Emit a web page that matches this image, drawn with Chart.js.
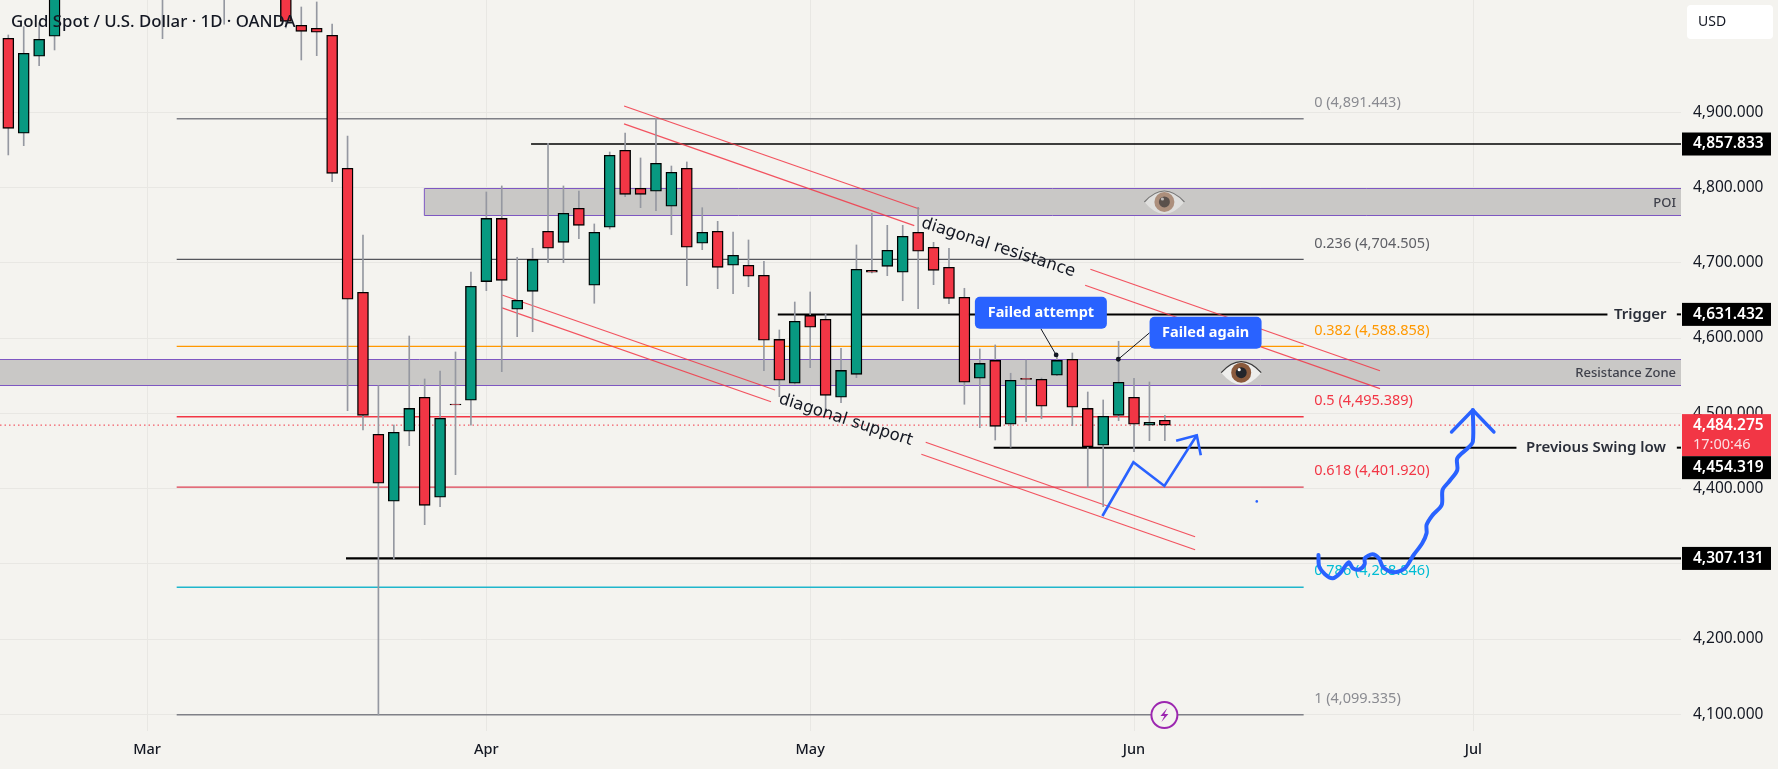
<!DOCTYPE html>
<html>
<head>
<meta charset="utf-8">
<title>Gold Spot / U.S. Dollar</title>
<script src="https://cdn.jsdelivr.net/npm/chart.js@4"></script>
<style>
    html, body { margin: 0; padding: 0; background: #f4f3ef; }
    #wrap { width: 1778px; height: 769px; }
</style>
</head>
<body>
<div id="wrap"><canvas id="chart"></canvas></div>
<script>
// bar 0 is the leftmost candle, 1 unit = 1 trading day
const opens = [4998.3,4872.1,4974.4,5001,5100,5160,5110,5170,5230,5170,5130,5110,5150,5190,5110,5070,5110,5170,5090,5015.6,
    5011.6,5002.3,4825.6,4660.8,4472.1,4383.1,4476.1,4521.3,4388.4,4511.4,4517.3,4674.9,4759.1,4638.2,4662.1,4741.9,4727.2,4772.4,4670.1,4747.2,
    4849.5,4799,4795,4775.1,4825.6,4725.9,4741.9,4696.7,4696.7,4683.4,4598.3,4539.9,4630.2,4624.9,4521.3,4551.8,4690,4695.3,4687.4,4740.5,
    4720.6,4694,4654.2,4546.5,4570.4,4485.4,4545.2,4545.2,4550.5,4571.8,4506.6,4457.5,4497.3,4521.3,4484.1,4490.7];
const highs = [5002.7,5013.8,5018.7,5115,5180,5200,5190,5250,5280,5230,5200,5180,5220,5210,5170,5130,5190,5180,5110,5039.9,
    5046.6,5017.3,4868.5,4736.9,4536.7,4484.5,4602.7,4545.6,4556.2,4581.5,4687.8,4794.1,4802.1,4707.3,4719.3,4858.8,4802.1,4795.4,4751.6,4847.2,
    4872.5,4839.3,4892,4828.6,4834,4773.2,4755.1,4740.9,4730.3,4702,4610.7,4647.9,4661.2,4632,4586.4,4723.7,4765.8,4749.8,4749.8,4773.8,
    4727.2,4719.3,4666.1,4585.5,4590.8,4553.2,4570.8,4546.9,4577.5,4580.1,4528.3,4517.7,4595.7,4546.5,4541.6,4497.3];
const lows = [4843.3,4855.6,4961.9,4982.8,5070,5090,5080,5150,5140,5090,4997.8,5060,5100,5080,5017,5060,5070,5070,5012,4969.5,
    4975.2,4807.8,4503.5,4477.8,4099.1,4306.4,4457,4352,4375.9,4418.4,4484.1,4662.9,4555.3,4601.8,4608.4,4700.1,4700.1,4732,4646.2,4744.9,
    4787.8,4773.2,4769.2,4737.3,4669.6,4717.4,4665.6,4658.9,4668.2,4556.6,4522.1,4539,4560.6,4500.4,4514.1,4547.3,4686.5,4682.9,4649.6,4639,
    4670.9,4645.6,4512,4480.9,4464.5,4454.8,4488.8,4492.8,4550,4483.5,4401.7,4375.9,4490.2,4449,4463.6,4463.6];
const closes = [4878.7,4978.4,4997,5089,5160,5110,5170,5230,5170,5130,5110,5150,5190,5110,5070,5110,5170,5090,5020.9,5007.6,
    5006.3,4818.9,4651.5,4497.3,4407,4474.8,4506.6,4377.7,4493.4,4511,4668.8,4759.1,4676.7,4650.2,4704.6,4719.3,4765.8,4749.8,4740.5,4842.9,
    4791,4791,4832.2,4820.3,4720.6,4740.5,4694,4710,4682.1,4597,4543.9,4622.3,4614.3,4523.9,4557.1,4691.4,4687.4,4716.6,4735.2,4715.3,
    4690,4652.8,4541.2,4566.4,4482.7,4543.9,4545,4509.3,4570.4,4508,4455.6,4496,4541.2,4485.4,4488,4484.275];

const monthBars = [9, 31, 52, 73, 95];
const monthNames = ["Mar", "Apr", "May", "Jun", "Jul"];
const priceTicks = [4100, 4200, 4300, 4400, 4500, 4600, 4700, 4800, 4900];

const fibLevels = [0, 0.236, 0.382, 0.5, 0.618, 0.786, 1];
const fibPrices = [4891.443, 4704.505, 4588.858, 4495.389, 4401.92, 4268.846, 4099.335];
const lastPrice = 4484.275;

// drawings, as [bar, price]
const resistanceTopA = [[39.93,4908.4],[59.08,4771.5]];
const resistanceBotA = [[39.93,4884.5],[58.75,4749.3]];
const resistanceTopB = [[70.17,4691.4],[88.95,4556.6]];
const resistanceBotB = [[69.83,4670.1],[88.95,4532.7]];
const supportTopA = [[32.02,4657.2],[49.72,4531]];
const supportBotA = [[32.02,4640],[49.46,4515.4]];
const supportTopB = [[59.49,4461.5],[76.96,4336]];
const supportBotB = [[59.21,4445.5],[76.96,4318.7]];
const shortArrow = [[70.95,4363.5],[72.96,4434.9],[74.97,4403.4],[77.07,4470.8]];
const shortArrowHead = [[75.73,4463.6],[77.07,4470.8],[77.33,4444.2]];
const longPath = [[84.96,4311.7],[85.01,4296.1],[85.38,4286.1],[85.88,4280.7],[86.36,4287.4],[86.92,4302],[87.2,4294],[87.62,4292.7],
    [87.96,4299.7],[87.96,4307.3],[88.46,4312.6],[88.88,4307.3],[89.16,4295.4],[89.86,4288.7],[90.56,4294],[91.13,4311.7],[91.69,4327.2],
    [91.97,4340.5],[91.97,4351.6],[92.33,4363.9],[92.95,4378.1],[93.01,4398.1],[93.46,4410],[93.96,4424.6],[93.96,4440.2],[94.63,4453.5],
    [94.97,4462.3],[94.97,4504.4]];
const longHead = [[93.59,4475.1],[94.97,4504.4],[96.34,4475.1]];

const xMin = -0.538, xMax = 108.47, yMin = 4077.8, yMax = 5049.2;
const green = "#089981", red = "#f23645", blue = "#2962ff", ink = "#131722";
const font = '"Noto Sans", sans-serif';

function seg(points, color, width, order, extra) {
    return Object.assign({
        type: "line",
        data: points.map(p => ({ x: p[0], y: p[1] })),
        borderColor: color,
        borderWidth: width,
        pointRadius: 0,
        tension: 0,
        order: order
    }, extra || {});
}

function hline(price, from, to, color, width, extra) {
    return seg([[from, price], [to, price]], color, width, 5, extra);
}

const fibColors = ["#7f8087", "#55565c", "#ff9800", "#f23645", "#dc3f52", "#1fb6cc", "#7f8087"];
const fibTextColors = ["#8a8b91", "#5f6066", "#ff9800", "#f23645", "#f23645", "#00bcd4", "#8a8b91"];
const fibFrom = 10.92, fibTo = 84;

let lineSets = [];
fibPrices.forEach((p, i) => lineSets.push(hline(p, fibFrom, fibTo, fibColors[i], 1.4)));
lineSets.push(hline(lastPrice, xMin, xMax, red, 1, { borderDash: [1.5, 3] }));
lineSets.push(hline(4857.833, 33.9, xMax, "#000", 1.4));
lineSets.push(hline(4631.432, 49.9, 103.7, "#000", 2));
lineSets.push(hline(4631.432, 108.2, xMax, "#000", 2));
lineSets.push(hline(4454.319, 63.9, 97.8, "#000", 2));
lineSets.push(hline(4454.319, 108.2, xMax, "#000", 2));
lineSets.push(hline(4307.131, 21.9, xMax, "#000", 2.4));
[resistanceTopA, resistanceBotA, resistanceTopB, resistanceBotB, supportTopA, supportBotA, supportTopB, supportBotB].forEach(l => {
    lineSets.push(seg(l, "rgba(242,54,69,.85)", 1.2, 4));
});
lineSets.push(seg(shortArrow, blue, 2.6, 0));
lineSets.push(seg(shortArrowHead, blue, 2.6, 0));
lineSets.push(seg(longPath, blue, 4, 0, { tension: 0.3, borderCapStyle: "round", borderJoinStyle: "round" }));
lineSets.push(seg(longHead, blue, 3.4, 0, { borderCapStyle: "round", borderJoinStyle: "round" }));

const zones = [
    { from: 26.98, to: xMax, top: 4799, bottom: 4763.1, label: "POI" },
    { from: xMin - 1, to: xMax, top: 4571.8, bottom: 4537.2, label: "Resistance Zone" }
];
const slanted = [
    { text: "diagonal resistance", bar: 64.2, price: 4720, deg: 18 },
    { text: "diagonal support", bar: 54.3, price: 4491, deg: 17.7 }
];
const callouts = [
    { text: "Failed attempt", bar: 66.96, price: 4633.6, w: 132, tipBar: 67.95, tipPrice: 4577.5, startX: 0, startY: 16 },
    { text: "Failed again", bar: 77.64, price: 4607, w: 112, tipBar: 71.98, tipPrice: 4571.8, startX: -56, startY: 0 }
];
const axisLabels = [
    { text: "4,857.833", price: 4857.833 },
    { text: "4,631.432", price: 4631.432 },
    { text: "4,454.319", price: 4454.319, shift: 20 },
    { text: "4,307.131", price: 4307.131 }
];
const eyes = [
    { bar: 74.97, price: 4780.8, alpha: 0.6 },
    { bar: 79.95, price: 4554, alpha: 1 }
];

function drawEye(ctx, cx, cy, alpha) {
    ctx.save();
    ctx.globalAlpha = alpha;
    ctx.beginPath();
    ctx.moveTo(cx - 20, cy);
    ctx.quadraticCurveTo(cx, cy - 22, cx + 20, cy);
    ctx.quadraticCurveTo(cx, cy + 24, cx - 20, cy);
    ctx.fillStyle = "#eeeeec";
    ctx.fill();
    ctx.beginPath();
    ctx.moveTo(cx - 20, cy);
    ctx.quadraticCurveTo(cx, cy - 22, cx + 20, cy);
    ctx.strokeStyle = "#3b3b3b";
    ctx.lineWidth = 1.2;
    ctx.stroke();
    ctx.beginPath();
    ctx.arc(cx, cy, 10, 0, Math.PI * 2);
    ctx.fillStyle = "#8a5a3c";
    ctx.fill();
    ctx.beginPath();
    ctx.arc(cx, cy, 5.5, 0, Math.PI * 2);
    ctx.fillStyle = "#23262b";
    ctx.fill();
    ctx.beginPath();
    ctx.arc(cx - 2, cy - 3, 1.6, 0, Math.PI * 2);
    ctx.fillStyle = "#fff";
    ctx.fill();
    ctx.restore();
}

function roundBox(ctx, x, y, w, h, r, fill) {
    ctx.beginPath();
    ctx.roundRect(x, y, w, h, r);
    ctx.fillStyle = fill;
    ctx.fill();
}

function write(ctx, text, x, y, f, color, align) {
    ctx.font = f;
    ctx.fillStyle = color;
    ctx.textAlign = align || "left";
    ctx.textBaseline = "middle";
    ctx.fillText(text, x, y);
}

const drawings = {
    id: "drawings",
    beforeDatasetsDraw(chart) {
        const { ctx, scales: { x, y } } = chart;
        ctx.save();
        zones.forEach(z => {
            const l = x.getPixelForValue(z.from);
            const r = x.getPixelForValue(z.to);
            const t = Math.round(y.getPixelForValue(z.top)) + 0.5;
            const b = Math.round(y.getPixelForValue(z.bottom)) + 0.5;
            ctx.fillStyle = "#c9c8c6";
            ctx.fillRect(l, t, r - l, b - t);
            ctx.beginPath();
            ctx.moveTo(r, t);
            ctx.lineTo(l, t);
            ctx.lineTo(l, b);
            ctx.lineTo(r, b);
            ctx.strokeStyle = "#7e57c2";
            ctx.lineWidth = 1;
            ctx.stroke();
            write(ctx, z.label, r - 5, (t + b) / 2 + 1, "500 13px " + font, "#3f414b", "right");
        });
        fibPrices.forEach((p, i) => {
            write(ctx, fibLevels[i] + " (" + p.toLocaleString("en-US", { minimumFractionDigits: 3 }) + ")",
                x.getPixelForValue(fibTo + 0.68), y.getPixelForValue(p) - 16, "14.5px " + font, fibTextColors[i]);
        });
        ctx.restore();
    },
    afterDatasetsDraw(chart) {
        const { ctx, scales: { x, y } } = chart;
        ctx.save();
        eyes.forEach(e => drawEye(ctx, x.getPixelForValue(e.bar), y.getPixelForValue(e.price), e.alpha));

        slanted.forEach(s => {
            ctx.save();
            ctx.translate(x.getPixelForValue(s.bar), y.getPixelForValue(s.price));
            ctx.rotate(s.deg * Math.PI / 180);
            write(ctx, s.text, 0, 0, "16.5px 'DejaVu Sans', sans-serif", "#131722", "center");
            ctx.restore();
        });

        callouts.forEach(c => {
            const cx = x.getPixelForValue(c.bar), cy = y.getPixelForValue(c.price);
            const tx = x.getPixelForValue(c.tipBar), ty = y.getPixelForValue(c.tipPrice);
            ctx.beginPath();
            ctx.moveTo(cx + c.startX, cy + c.startY);
            ctx.lineTo(tx, ty);
            ctx.strokeStyle = "#131722";
            ctx.lineWidth = 1;
            ctx.stroke();
            ctx.beginPath();
            ctx.arc(tx, ty, 2.4, 0, Math.PI * 2);
            ctx.fillStyle = "#131722";
            ctx.fill();
            roundBox(ctx, cx - c.w / 2, cy - 16, c.w, 32, 5, blue);
            write(ctx, c.text, cx, cy, "700 14.5px " + font, "#fff", "center");
        });

        // little markers
        const bx = x.getPixelForValue(74.97), by = y.getPixelForValue(4100 - 1);
        ctx.beginPath();
        ctx.arc(bx, by, 13, 0, Math.PI * 2);
        ctx.fillStyle = "#f4f3ef";
        ctx.fill();
        ctx.strokeStyle = "#9c27b0";
        ctx.lineWidth = 2;
        ctx.stroke();
        ctx.beginPath();
        ctx.moveTo(bx + 3, by - 7);
        ctx.lineTo(bx - 4, by + 1);
        ctx.lineTo(bx, by + 1);
        ctx.lineTo(bx - 3, by + 7);
        ctx.lineTo(bx + 4, by - 1);
        ctx.lineTo(bx, by - 1);
        ctx.closePath();
        ctx.fillStyle = "#9c27b0";
        ctx.fill();
        ctx.beginPath();
        ctx.arc(x.getPixelForValue(80.96), y.getPixelForValue(4382.9), 1.3, 0, Math.PI * 2);
        ctx.fillStyle = blue;
        ctx.fill();

        write(ctx, "Trigger", 1614, y.getPixelForValue(4631.432), "600 15px " + font, "#2a2e39");
        write(ctx, "Previous Swing low", 1526, y.getPixelForValue(4454.319), "600 15px " + font, "#2a2e39");
        ctx.restore();
    },
    afterDraw(chart) {
        const { ctx, scales: { y }, chartArea } = chart;
        const left = chartArea.right + 1;
        ctx.save();
        write(ctx, "Gold Spot / U.S. Dollar · 1D · OANDA", 11, 22, "500 16.8px " + font, ink);
        // price tags on the axis
        ctx.fillStyle = red;
        const py = y.getPixelForValue(lastPrice);
        ctx.fillRect(left, py - 11, 89, 42);
        write(ctx, "4,484.275", left + 11, py, "600 15.5px " + font, "#fff");
        write(ctx, "17:00:46", left + 11, py + 20, "14.5px " + font, "#fcdfe2");
        axisLabels.forEach(a => {
            const ty = y.getPixelForValue(a.price) + (a.shift || 0);
            ctx.fillStyle = "#000";
            ctx.fillRect(left, ty - 11.5, 89, 23);
            write(ctx, a.text, left + 11, ty, "600 15.5px " + font, "#fff");
        });
        roundBox(ctx, 1687, 5, 86, 34, 4, "#fff");
        write(ctx, "USD", 1698, 22.5, "14px " + font, ink);
        ctx.restore();
    }
};

const wickBars = lows.map((l, i) => ({ x: i, y: [l, highs[i]] }));
const bodyBars = opens.map((o, i) => ({ x: i, y: [o, closes[i]] }));
const bodyColors = opens.map((o, i) => (closes[i] >= o ? green : red));

new Chart(document.getElementById("chart"), {
    type: "bar",
    data: {
        datasets: [
            {
                data: bodyBars,
                backgroundColor: bodyColors,
                borderColor: "#000",
                borderWidth: 1.4,
                borderSkipped: false,
                barThickness: 11,
                minBarLength: 1,
                grouped: false,
                order: 1
            },
            {
                data: wickBars,
                backgroundColor: "#9598a1",
                borderWidth: 0,
                barThickness: 1,
                grouped: false,
                order: 2
            }
        ].concat(lineSets)
    },
    options: {
        responsive: true,
        maintainAspectRatio: false,
        animation: false,
        layout: { padding: 0 },
        plugins: { legend: { display: false }, tooltip: { enabled: false } },
        scales: {
            x: {
                type: "linear",
                offset: false,
                min: xMin,
                max: xMax,
                grid: { color: "#e8e7e3", offset: false, drawTicks: false },
                border: { display: false },
                afterBuildTicks: s => { s.ticks = monthBars.map(v => ({ value: v })); },
                afterFit: s => { s.height = 38; s.paddingLeft = 0; s.paddingRight = 0; },
                ticks: {
                    autoSkip: false,
                    maxRotation: 0,
                    padding: 10,
                    color: ink,
                    font: { family: font, size: 14.5, weight: "500" },
                    callback: v => monthNames[monthBars.indexOf(v)]
                }
            },
            y: {
                position: "right",
                min: yMin,
                max: yMax,
                grid: { color: "#e8e7e3", drawTicks: false },
                border: { display: false },
                afterBuildTicks: s => { s.ticks = priceTicks.map(v => ({ value: v })); },
                afterFit: s => { s.width = 97; s.paddingTop = 0; s.paddingBottom = 0; },
                ticks: {
                    padding: 12,
                    color: ink,
                    crossAlign: "near",
                    font: { family: font, size: 15.5 },
                    callback: v => v.toLocaleString("en-US", { minimumFractionDigits: 3 })
                }
            }
        }
    },
    plugins: [drawings]
});
</script>
</body>
</html>
